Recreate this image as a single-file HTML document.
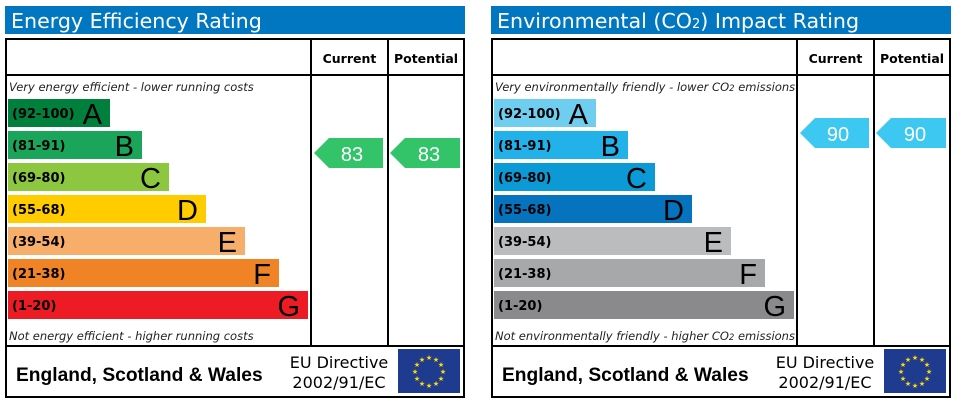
<!DOCTYPE html>
<html><head><meta charset="utf-8"><style>
html,body{margin:0;padding:0;background:#fff;width:957px;height:404px;overflow:hidden}
svg{display:block}
.t{font-family:"DejaVu Sans",sans-serif;fill:#fff;font-size:20.6px}
.h{font-family:"DejaVu Sans",sans-serif;font-weight:bold;font-size:12.5px}
.i{font-family:"DejaVu Sans",sans-serif;font-style:italic;font-size:11.5px;fill:#222}
.r{font-family:"DejaVu Sans",sans-serif;font-weight:bold;font-size:13px}
.L{font-family:"Liberation Sans",sans-serif;font-size:29px}
.n{font-family:"Liberation Sans",sans-serif;font-size:20px;fill:#fff}
.f{font-family:"Liberation Sans",sans-serif;font-weight:bold;font-size:19.2px}
.e{font-family:"DejaVu Sans",sans-serif;font-size:16px}
</style></head><body>
<svg width="957" height="404" viewBox="0 0 957 404">
<defs>
<g id="eu">
<rect x="0" y="0" width="62" height="44" fill="#1f3b8f"/>
<g fill="#ffdd00" font-size="7" font-family="DejaVu Sans" text-anchor="middle">
<text x="31" y="11">★</text><text x="38" y="13">★</text><text x="43" y="18">★</text><text x="45" y="25">★</text><text x="43" y="32">★</text><text x="38" y="37">★</text><text x="31" y="39">★</text><text x="24" y="37">★</text><text x="19" y="32">★</text><text x="17" y="25">★</text><text x="19" y="18">★</text><text x="24" y="13">★</text>
</g></g>
<g id="frame">
<rect x="6" y="39" width="458" height="358" fill="none" stroke="#000" stroke-width="2"/>
<line x1="6" y1="75" x2="464" y2="75" stroke="#000" stroke-width="2"/>
<line x1="311" y1="39" x2="311" y2="346" stroke="#000" stroke-width="2"/>
<line x1="388" y1="39" x2="388" y2="346" stroke="#000" stroke-width="2"/>
<line x1="6" y1="346" x2="464" y2="346" stroke="#000" stroke-width="2"/>
<text class="h" x="349.5" y="63" text-anchor="middle">Current</text>
<text class="h" x="426" y="63" text-anchor="middle">Potential</text>
<text class="f" x="16" y="381">England, Scotland &amp; Wales</text>
<text class="e" x="339" y="368" text-anchor="middle">EU Directive</text>
<text class="e" x="339" y="388" text-anchor="middle">2002/91/EC</text>
<use href="#eu" x="398" y="349"/>
</g>
</defs>

<!-- LEFT -->
<rect x="5" y="6" width="460" height="28" fill="#0077c0"/>
<text class="t" x="11" y="28">Energy Efficiency Rating</text>
<use href="#frame"/>
<text class="i" x="9" y="91">Very energy efficient - lower running costs</text>
<text class="i" x="9" y="340">Not energy efficient - higher running costs</text>
<rect x="8" y="99" width="102" height="28" fill="#007f3d"/><text class="r" x="12" y="118">(92-100)</text><text class="L" x="102" y="124" text-anchor="end">A</text>
<rect x="8" y="131" width="134" height="28" fill="#1aa55a"/><text class="r" x="12" y="150">(81-91)</text><text class="L" x="134" y="156" text-anchor="end">B</text>
<rect x="8" y="163" width="161" height="28" fill="#8dc63f"/><text class="r" x="12" y="182">(69-80)</text><text class="L" x="161" y="188" text-anchor="end">C</text>
<rect x="8" y="195" width="198" height="28" fill="#ffcc00"/><text class="r" x="12" y="214">(55-68)</text><text class="L" x="198" y="220" text-anchor="end">D</text>
<rect x="8" y="227" width="237" height="28" fill="#f7ae6b"/><text class="r" x="12" y="246">(39-54)</text><text class="L" x="237" y="252" text-anchor="end">E</text>
<rect x="8" y="259" width="271" height="28" fill="#f08326"/><text class="r" x="12" y="278">(21-38)</text><text class="L" x="271" y="284" text-anchor="end">F</text>
<rect x="8" y="291" width="300" height="28" fill="#ed1c24"/><text class="r" x="12" y="310">(1-20)</text><text class="L" x="300" y="316" text-anchor="end">G</text>
<polygon points="314,153 329,138 383,138 383,168 329,168" fill="#33c46a"/><text class="n" x="352" y="161" text-anchor="middle">83</text>
<polygon points="390,153 405,138 460,138 460,168 405,168" fill="#33c46a"/><text class="n" x="429" y="161" text-anchor="middle">83</text>

<!-- RIGHT -->
<g transform="translate(486,0)">
<rect x="5" y="6" width="460" height="28" fill="#0077c0"/>
<text class="t" x="11" y="28">Environmental (CO<tspan font-size="13">2</tspan>) Impact Rating</text>
<use href="#frame"/>
<text class="i" x="9" y="91" font-size="11">Very environmentally friendly - lower CO<tspan font-size="8.5">2</tspan> emissions</text>
<text class="i" x="9" y="340" font-size="11">Not environmentally friendly - higher CO<tspan font-size="8.5">2</tspan> emissions</text>
<rect x="8" y="99" width="102" height="28" fill="#6fcdf0"/><text class="r" x="12" y="118">(92-100)</text><text class="L" x="102" y="124" text-anchor="end">A</text>
<rect x="8" y="131" width="134" height="28" fill="#22b1e8"/><text class="r" x="12" y="150">(81-91)</text><text class="L" x="134" y="156" text-anchor="end">B</text>
<rect x="8" y="163" width="161" height="28" fill="#0b9ad6"/><text class="r" x="12" y="182">(69-80)</text><text class="L" x="161" y="188" text-anchor="end">C</text>
<rect x="8" y="195" width="198" height="28" fill="#0573bd"/><text class="r" x="12" y="214">(55-68)</text><text class="L" x="198" y="220" text-anchor="end">D</text>
<rect x="8" y="227" width="237" height="28" fill="#bbbcbe"/><text class="r" x="12" y="246">(39-54)</text><text class="L" x="237" y="252" text-anchor="end">E</text>
<rect x="8" y="259" width="271" height="28" fill="#a7a8aa"/><text class="r" x="12" y="278">(21-38)</text><text class="L" x="271" y="284" text-anchor="end">F</text>
<rect x="8" y="291" width="300" height="28" fill="#8a8a8c"/><text class="r" x="12" y="310">(1-20)</text><text class="L" x="300" y="316" text-anchor="end">G</text>
<polygon points="314,133 329,118 383,118 383,148 329,148" fill="#3cc8f0"/><text class="n" x="352" y="141" text-anchor="middle">90</text>
<polygon points="390,133 405,118 460,118 460,148 405,148" fill="#3cc8f0"/><text class="n" x="429" y="141" text-anchor="middle">90</text>
</g>
</svg>
</body></html>
